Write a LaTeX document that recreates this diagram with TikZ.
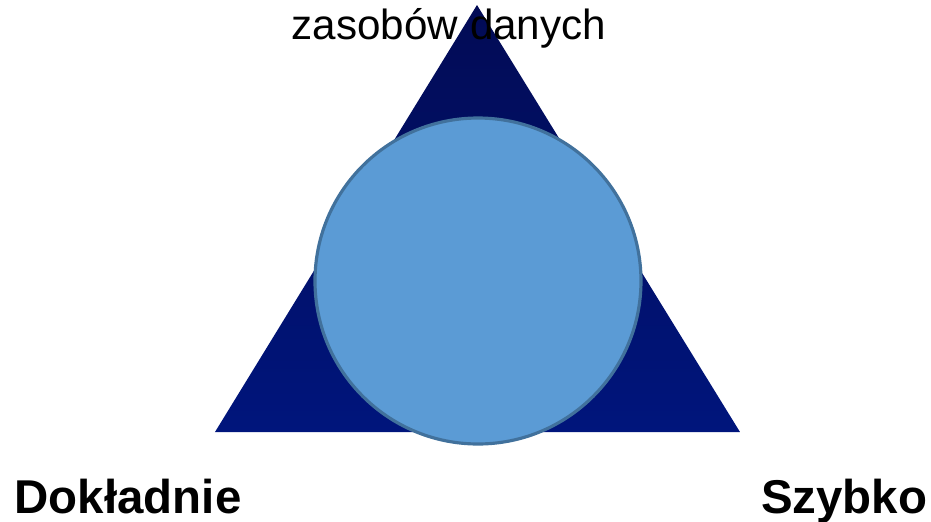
\documentclass[tikz,border=0pt]{standalone}
\usepackage{fontspec}
\setmainfont{Liberation Sans}
\usetikzlibrary{positioning}
\definecolor{cTop}{HTML}{020B55}
\definecolor{cBottom}{HTML}{00157C}
\definecolor{cDisc}{HTML}{5B9BD5}
\definecolor{cRim}{HTML}{41719C}
\tikzset{
  corner/.style={font=\fontsize{13.5}{16}\selectfont\bfseries, inner sep=0pt, anchor=base},
  toplbl/.style={font=\fontsize{12}{14}\selectfont, inner sep=0pt, anchor=base},
  disc/.style={circle, draw=cRim, line width=0.9pt, fill=cDisc, minimum size=3.26cm, inner sep=0},
}

\begin{document}
\begin{tikzpicture}
    \useasboundingbox (0,0) rectangle (9.31,5.21);
    % triangle
    \coordinate (apex) at (4.77,5.16);
    \coordinate (bl) at (2.15,0.89);
    \coordinate (br) at (7.40,0.89);
    \shade[top color=cTop, bottom color=cBottom] (apex) -- (bl) -- (br) -- cycle;
    % circle on top
    \node[disc] (core) at (4.78,2.40) {};
    % labels
    \node[toplbl] (res) at (4.49,4.82) {zasobów danych};
    \node[corner, anchor=base west] (acc) at (0.14,0.08) {Dokładnie};
    \node[corner, anchor=base east] (fast) at (9.28,0.08) {Szybko};
\end{tikzpicture}
\end{document}
